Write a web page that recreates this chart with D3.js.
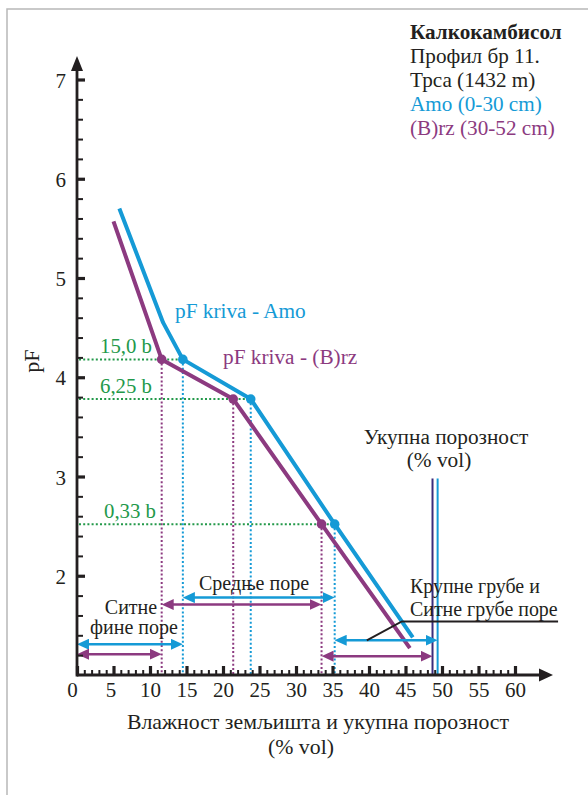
<!DOCTYPE html>
<html><head><meta charset="utf-8">
<script src="https://cdn.jsdelivr.net/npm/d3@7"></script>
<style>
body{margin:0;background:#fff}
svg{display:block}
text{font-family:"Liberation Serif","Times New Roman",serif;fill:#231f20}
</style>
</head><body>
<svg id="c" width="588" height="795"></svg>
<script>
// ---------- data ----------
const xMajorTicks = [0,5,10,15,20,25,30,35,40,45,50,55,60];
const xMinorTicks = [1,2,3,4,6,7,8,9,11,12,13,14,16,17,18,19,21,22,23,24,26,27,28,29,31,32,33,34,36,37,38,39,41,42,43,44,46,47,48,49,51,52,53,54,56,57,58,59];
const yMajorTicks = [2,3,4,5,6,7];
const yMinorTicks = [1.2,1.4,1.6,1.8,2.2,2.4,2.6,2.8,3.2,3.4,3.6,3.8,4.2,4.4,4.6,4.8,5.2,5.4,5.6,5.8,6.2,6.4,6.6,6.8];

const amoMoisture = [5.8, 11.8, 14.5, 23.8, 35.3, 46.0];
const amoPF       = [5.70, 4.55, 4.18, 3.78, 2.52, 1.38];
const brzMoisture = [5.0, 11.6, 21.4, 33.5, 45.6];
const brzPF       = [5.57, 4.18, 3.78, 2.52, 1.27];

const pressureLabels = ["15,0 b", "6,25 b", "0,33 b"];
const pressurePF     = [4.18, 3.78, 2.52];
const amoAtPressure  = [14.5, 23.8, 35.3];
const brzAtPressure  = [11.6, 21.4, 33.5];

const porosityAmo = 49.4;
const porosityBrz = 48.7;

const legendLines = ["Калкокамбисол", "Профил бр 11.", "Трса (1432 m)", "Amo (0-30 cm)", "(B)rz (30-52 cm)"];

// ---------- setup ----------
const BLUE = "#159ad6", PURPLE = "#8c3a80", GREEN = "#23994a", NAVY = "#3a2c7c", INK = "#231f20";
const svg = d3.select("#c");
const x = d3.scaleLinear([0, 60], [77, 515]);
const y = d3.scaleLinear([1, 7], [675, 79.5]);

// frame
svg.append("path").attr("d", "M7,795 L7,9 L588,9").attr("fill", "none").attr("stroke", "#b8b8b8").attr("stroke-width", 1.5);

// markers
const defs = svg.append("defs");
[["blue", BLUE], ["purple", PURPLE]].forEach(([n, c]) => {
  defs.append("marker").attr("id", "ah-" + n)
    .attr("viewBox", "0 0 12 11").attr("refX", 2).attr("refY", 5.5)
    .attr("markerWidth", 12).attr("markerHeight", 11)
    .attr("markerUnits", "userSpaceOnUse").attr("orient", "auto-start-reverse")
    .append("path").attr("d", "M0,0 L12,5.5 L0,11 Z").attr("fill", c);
});

// ---------- dotted guide lines ----------
const g = svg.append("g");
pressurePF.forEach((p, i) => {
  g.append("line").attr("x1", x(0) + 2).attr("x2", x(amoAtPressure[i])).attr("y1", y(p)).attr("y2", y(p))
    .attr("stroke", GREEN).attr("stroke-width", 2).attr("stroke-dasharray", "2,2.2");
  g.append("line").attr("x1", x(brzAtPressure[i])).attr("x2", x(brzAtPressure[i])).attr("y1", y(p)).attr("y2", y(1))
    .attr("stroke", PURPLE).attr("stroke-width", 2).attr("stroke-dasharray", "2,2.2");
  g.append("line").attr("x1", x(amoAtPressure[i])).attr("x2", x(amoAtPressure[i])).attr("y1", y(p)).attr("y2", y(1))
    .attr("stroke", BLUE).attr("stroke-width", 2).attr("stroke-dasharray", "2,2.2");
  g.append("text").attr("x", x(0) + 23 + (i === 2 ? 4 : 0)).attr("y", y(p) - 6).text(pressureLabels[i])
    .style("fill", GREEN).attr("font-size", 20.8);
});

// ---------- porosity lines ----------
const porTop = 2.98;
g.append("line").attr("x1", x(porosityBrz)).attr("x2", x(porosityBrz)).attr("y1", y(porTop)).attr("y2", y(1))
  .attr("stroke", NAVY).attr("stroke-width", 2);
g.append("line").attr("x1", x(porosityAmo)).attr("x2", x(porosityAmo)).attr("y1", y(porTop)).attr("y2", y(1))
  .attr("stroke", BLUE).attr("stroke-width", 2);

// ---------- curves ----------
const line = d3.line().x(d => x(d[0])).y(d => y(d[1]));
svg.append("path").datum(d3.zip(brzMoisture, brzPF)).attr("d", line)
  .attr("fill", "none").attr("stroke", PURPLE).attr("stroke-width", 4).attr("stroke-linejoin", "round");
svg.append("path").datum(d3.zip(amoMoisture, amoPF)).attr("d", line)
  .attr("fill", "none").attr("stroke", BLUE).attr("stroke-width", 4).attr("stroke-linejoin", "round");

svg.selectAll(".dotb").data(d3.zip(brzAtPressure, pressurePF)).join("circle")
  .attr("cx", d => x(d[0])).attr("cy", d => y(d[1])).attr("r", 4.8).attr("fill", PURPLE);
svg.selectAll(".dota").data(d3.zip(amoAtPressure, pressurePF)).join("circle")
  .attr("cx", d => x(d[0])).attr("cy", d => y(d[1])).attr("r", 4.8).attr("fill", BLUE);

// ---------- pore-class arrows ----------
function arrow(a, b, p, color, name) {
  svg.append("line").attr("x1", x(a) + 10).attr("x2", x(b) - 10).attr("y1", y(p)).attr("y2", y(p))
    .attr("stroke", color).attr("stroke-width", 2.5)
    .attr("marker-start", "url(#ah-" + name + ")").attr("marker-end", "url(#ah-" + name + ")");
}
arrow(0, amoAtPressure[0], 1.31, BLUE, "blue");
arrow(0, brzAtPressure[0], 1.21, PURPLE, "purple");
arrow(amoAtPressure[0], amoAtPressure[2], 1.78, BLUE, "blue");
arrow(brzAtPressure[0], brzAtPressure[2], 1.71, PURPLE, "purple");
arrow(amoAtPressure[2], porosityAmo, 1.35, BLUE, "blue");
arrow(brzAtPressure[2], porosityBrz, 1.19, PURPLE, "purple");

// leader line for coarse pores
svg.append("path")
  .attr("d", `M${x(39.7)},${y(1.35)} L${x(44.5)},${y(1.54)} L${x(65.9)},${y(1.54)}`)
  .attr("fill", "none").attr("stroke", INK).attr("stroke-width", 2);

// ---------- axes ----------
const yMinor = svg.append("g").attr("transform", `translate(${x(0)},0)`)
  .call(d3.axisRight(y).tickValues(yMinorTicks).tickSize(6).tickFormat(""));
yMinor.select(".domain").remove();
yMinor.selectAll("line").attr("stroke", INK).attr("stroke-width", 2);
const yMajor = svg.append("g").attr("transform", `translate(${x(0)},0)`)
  .call(d3.axisRight(y).tickValues(yMajorTicks).tickSize(8).tickFormat(d3.format("d")));
yMajor.select(".domain").remove();
yMajor.selectAll("line").attr("stroke", INK).attr("stroke-width", 3.2);
yMajor.selectAll("text").attr("x", -11).attr("dy", "0.36em").attr("text-anchor", "end")
  .attr("font-size", 21).attr("font-family", null).style("fill", INK);

const xMinor = svg.append("g").attr("transform", `translate(0,${y(1)})`)
  .call(d3.axisTop(x).tickValues(xMinorTicks).tickSize(5).tickFormat(""));
xMinor.select(".domain").remove();
xMinor.selectAll("line").attr("stroke", INK).attr("stroke-width", 2);
const xMajor = svg.append("g").attr("transform", `translate(0,${y(1)})`)
  .call(d3.axisTop(x).tickValues(xMajorTicks).tickSize(9).tickFormat(d3.format("d")));
xMajor.select(".domain").remove();
xMajor.selectAll("line").attr("stroke", INK).attr("stroke-width", 3.2);
xMajor.selectAll("text").attr("y", 21.7).attr("dy", null).attr("font-size", 21).attr("font-family", null)
  .style("fill", INK).attr("dx", d => d === 0 ? -5 : (d === 5 ? -3 : 0));

// axis lines with arrowheads
svg.append("line").attr("x1", x(0)).attr("x2", 541).attr("y1", y(1)).attr("y2", y(1))
  .attr("stroke", INK).attr("stroke-width", 2.8);
svg.append("path").attr("d", `M553,${y(1)} L539,${y(1) - 6.5} L539,${y(1) + 6.5} Z`).attr("fill", INK);
svg.append("line").attr("x1", x(0)).attr("x2", x(0)).attr("y1", y(1) + 1.4).attr("y2", 68)
  .attr("stroke", INK).attr("stroke-width", 2.8);
svg.append("path").attr("d", `M${x(0)},56 L${x(0) - 6},71 L${x(0) + 6},71 Z`).attr("fill", INK);

// ---------- texts ----------
svg.append("text").attr("transform", "translate(39,361) rotate(-90)").attr("text-anchor", "middle")
  .attr("font-size", 22).text("pF");
svg.append("text").attr("x", 318).attr("y", 729).attr("text-anchor", "middle").attr("font-size", 21.8)
  .text("Влажност земљишта и укупна порозност");
svg.append("text").attr("x", 301).attr("y", 754).attr("text-anchor", "middle").attr("font-size", 21.8)
  .text("(% vol)");

const legColors = [INK, INK, INK, BLUE, PURPLE];
legendLines.forEach((t, i) => {
  svg.append("text").attr("x", 410).attr("y", 38.5 + i * 24).attr("font-size", 21.2)
    .attr("font-weight", i === 0 ? "bold" : null).style("fill", legColors[i]).text(t);
});

svg.append("text").attr("x", 175).attr("y", 318).attr("font-size", 21.3).style("fill", BLUE).text("pF kriva - Amo");
svg.append("text").attr("x", 223).attr("y", 364).attr("font-size", 21.3).style("fill", PURPLE).text("pF kriva - (B)rz");

svg.append("text").attr("x", 446).attr("y", 444).attr("text-anchor", "middle").attr("font-size", 21.3).text("Укупна порозност");
svg.append("text").attr("x", 439).attr("y", 467).attr("text-anchor", "middle").attr("font-size", 21.3).text("(% vol)");

svg.append("text").attr("x", 410).attr("y", 593).attr("font-size", 19.9).text("Крупне грубе и");
svg.append("text").attr("x", 410).attr("y", 616).attr("font-size", 19.9).text("Ситне грубе поре");

svg.append("text").attr("x", 131).attr("y", 614).attr("text-anchor", "middle").attr("font-size", 20).text("Ситне");
svg.append("text").attr("x", 134).attr("y", 634).attr("text-anchor", "middle").attr("font-size", 20).text("фине поре");
svg.append("text").attr("x", 199).attr("y", 590).attr("font-size", 20).text("Средње поре");
</script>
</body></html>
